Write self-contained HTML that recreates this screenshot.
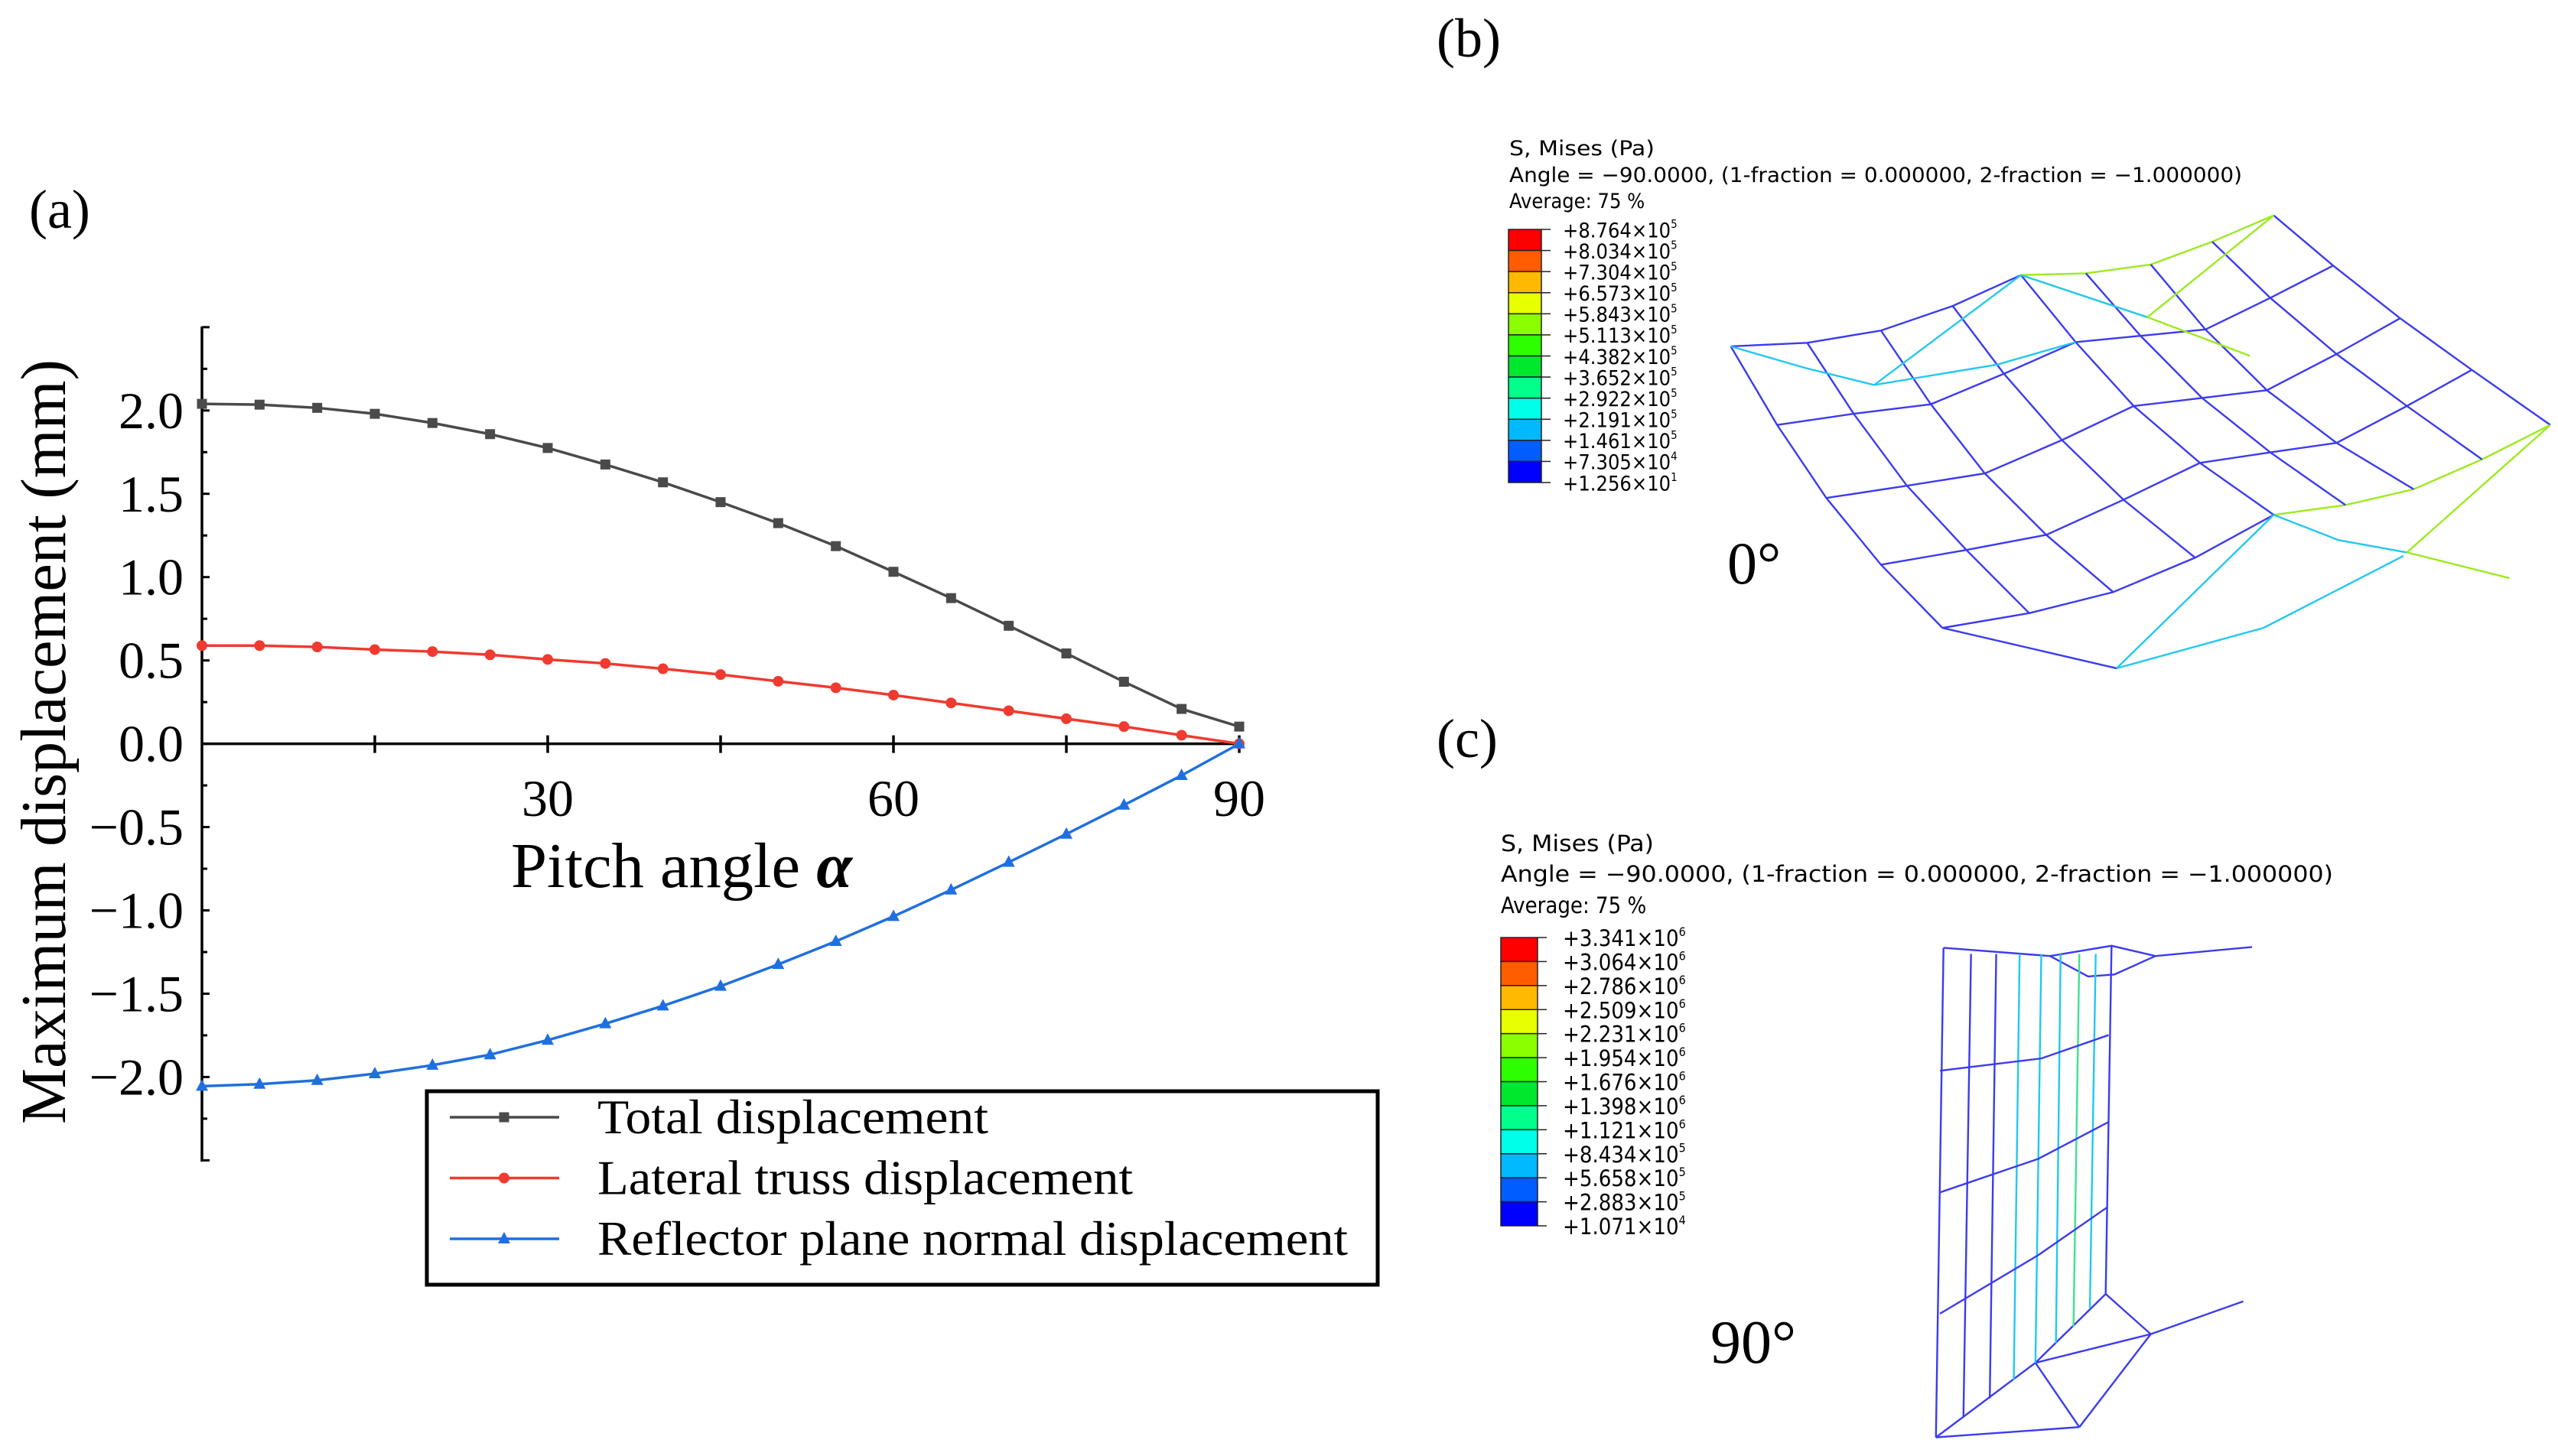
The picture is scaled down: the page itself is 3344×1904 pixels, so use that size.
<!DOCTYPE html>
<html><head><meta charset="utf-8"><style>
html,body{margin:0;padding:0;background:#fff;}
svg{display:block;}
.serif{font-family:"Liberation Serif",serif;}
.sans{font-family:"DejaVu Sans Condensed","Liberation Sans",sans-serif;}
</style></head><body>
<svg id="fig" xmlns="http://www.w3.org/2000/svg" width="3344" height="1904" viewBox="0 0 3344 1904">
<rect width="3344" height="1904" fill="#fff"/>
<text class="serif" x="38" y="298" font-size="72">(a)</text>
<text class="serif" x="1878" y="74" font-size="72">(b)</text>
<text class="serif" x="1878" y="990" font-size="72">(c)</text>
<g id="chart"></g>
<g id="panelb"></g>
<g id="panelc"></g>
</svg>
<script>
const NS="http://www.w3.org/2000/svg";
const angles=[0,5,10,15,20,25,30,35,40,45,50,55,60,65,70,75,80,85,90];
const totalDisp=[2.04,2.035,2.016,1.98,1.925,1.858,1.775,1.676,1.569,1.45,1.324,1.186,1.032,0.874,0.708,0.542,0.372,0.209,0.103];
const lateralDisp=[0.589,0.589,0.581,0.565,0.553,0.534,0.506,0.482,0.45,0.415,0.375,0.336,0.292,0.245,0.198,0.15,0.103,0.051,0.0];
const reflectorDisp=[-2.055,-2.043,-2.02,-1.98,-1.929,-1.866,-1.779,-1.68,-1.573,-1.455,-1.324,-1.186,-1.036,-0.877,-0.711,-0.542,-0.368,-0.19,0.0];
const yTickLabels=["−2.0","−1.5","−1.0","−0.5","0.0","0.5","1.0","1.5","2.0"];
const yTickValues=[-2,-1.5,-1,-0.5,0,0.5,1,1.5,2];
const xTickValues=[15,30,45,60,75,90];
const xTickLabels=["","30","","60","","90"];
const cbarBLabels=["+8.764","+8.034","+7.304","+6.573","+5.843","+5.113","+4.382","+3.652","+2.922","+2.191","+1.461","+7.305","+1.256"];
const cbarBExp=["5","5","5","5","5","5","5","5","5","5","5","4","1"];
const cbarCLabels=["+3.341","+3.064","+2.786","+2.509","+2.231","+1.954","+1.676","+1.398","+1.121","+8.434","+5.658","+2.883","+1.071"];
const cbarCExp=["6","6","6","6","6","6","6","6","6","5","5","5","4"];
const binColors=["#ff0000","#ff5d00","#ffb900","#e8ff00","#8bff00","#2eff00","#00e82e","#00ff8b","#00ffe8","#00b9ff","#005dff","#0000ff"];

function el(tag,attrs,parent){const e=document.createElementNS(NS,tag);for(const k in attrs)e.setAttribute(k,attrs[k]);if(parent)parent.appendChild(e);return e;}
const X=a=>264+a*(1356/90);
const Y=v=>972.6-v*217.9;

const chart=document.getElementById('chart');
let ax=el('line',{x1:264,y1:427,x2:264,y2:1519,stroke:'#000','stroke-width':3.5},chart);

let xa=el('line',{x1:264,y1:Y(0),x2:X(90)+2,y2:Y(0),stroke:'#000','stroke-width':3.5},chart);

for(let v=-2.5;v<=2.51;v+=0.25){
  const major=Math.abs(v*2-Math.round(v*2))<1e-6;
  const t=el('line',{x1:264,y1:Y(v),x2:264+(major?10:7),y2:Y(v),stroke:'#000','stroke-width':3},chart);
  
}
yTickValues.forEach((v,i)=>{
  const t=el('text',{x:240,y:Y(v)+23,'text-anchor':'end','font-size':68,class:'serif'},chart);
  t.textContent=yTickLabels[i];
  
});
xTickValues.forEach((v,i)=>{
  const t=el('line',{x1:X(v),y1:Y(0)-11,x2:X(v),y2:Y(0)+12,stroke:'#000','stroke-width':3.5},chart);
  
  if(xTickLabels[i]){
    const l=el('text',{x:X(v),y:1067,'text-anchor':'middle','font-size':68,class:'serif'},chart);
    l.textContent=xTickLabels[i];
    
  }
});
let xt=el('text',{x:668,y:1160,'font-size':84,class:'serif',textLength:446,lengthAdjust:'spacingAndGlyphs'},chart);
xt.innerHTML='Pitch angle <tspan font-style="italic" font-weight="bold">α</tspan>';

let yt=el('text',{x:0,y:0,'font-size':84,class:'serif','text-anchor':'middle',transform:'translate(85,970) rotate(-90)',textLength:1000,lengthAdjust:'spacingAndGlyphs'},chart);
yt.textContent='Maximum displacement (mm)';


function marker(g,type,x,y,color){
  let m;
  if(type==='sq') m=el('rect',{x:x-6.5,y:y-6.5,width:13,height:13,fill:color},g);
  else if(type==='ci') m=el('circle',{cx:x,cy:y,r:7,fill:color},g);
  else m=el('polygon',{points:`${x},${y-9} ${x-8},${y+6} ${x+8},${y+6}`,fill:color},g);
  return m;
}
function series(vals,color,type,name){
  const g=el('g',{},chart);
  
  const pts=angles.map((a,i)=>X(a)+','+Y(vals[i])).join(' ');
  const p=el('polyline',{points:pts,fill:'none',stroke:color,'stroke-width':3.5},g);
  
  angles.forEach((a,i)=>{
    const m=marker(g,type,X(a),Y(vals[i]),color);
    
  });
}
series(totalDisp,'#4a4a4a','sq','total-displacement-series');
series(lateralDisp,'#f03a30','ci','lateral-truss-series');
series(reflectorDisp,'#1f6fe0','tr','reflector-normal-series');

const lg=el('g',{},chart);

el('rect',{x:558,y:1427,width:1243,height:253,fill:'#fff',stroke:'#000','stroke-width':5},lg);
const legItems=[['Total displacement','#4a4a4a','sq',511],['Lateral truss displacement','#f03a30','ci',700],['Reflector plane normal displacement','#1f6fe0','tr',981]];
legItems.forEach((it,i)=>{
  const y=1461+i*79.5;
  const e=el('g',{},lg);
  
  el('line',{x1:588,y1:y,x2:731,y2:y,stroke:it[1],'stroke-width':3.5},e);
  marker(e,it[2],659,y,it[1]);
  const t=el('text',{x:781,y:y+21,'font-size':64,class:'serif',textLength:it[3],lengthAdjust:'spacingAndGlyphs'},e);
  t.textContent=it[0];
});

function contourHeader(g,x,ys,fs,w1,angleW){
  const lines=['S, Mises (Pa)','Angle = −90.0000, (1-fraction = 0.000000, 2-fraction = −1.000000)','Average: 75 %'];
  const names=['contour-variable-title','contour-angle-info','contour-average-info'];
  const ws=[w1,angleW,null];
  lines.forEach((s,i)=>{
    const a={x:x,y:ys[i],'font-size':fs,class:'sans'};
    if(ws[i]){a.textLength=ws[i];a.lengthAdjust='spacingAndGlyphs';}
    const t=el('text',a,g);t.textContent=s;
    
  });
}
function colorbar(g,x,y0,y1,w,labels,exps,lx,fs){
  const cb=el('g',{},g);
  
  const h=(y1-y0)/binColors.length;
  binColors.forEach((c,i)=>{
    el('rect',{x:x,y:y0+i*h,width:w,height:h,fill:c,stroke:'#222','stroke-width':1.5},cb);
  });
  labels.forEach((s,i)=>{
    const yy=y0+i*h;
    el('line',{x1:x+w,y1:yy,x2:x+w+12,y2:yy,stroke:'#222','stroke-width':1.5},cb);
    const t=el('text',{x:lx,y:yy+fs*0.38,'font-size':fs,class:'sans'},cb);
    t.innerHTML=s+'×10<tspan font-size="'+(fs*0.55)+'" dy="-'+(fs*0.45)+'">'+exps[i]+'</tspan>';
    
  });
}
const pb=document.getElementById('panelb');
contourHeader(pb,1973,[203,238,272],27,190,958);
colorbar(pb,1972,300,631,43,cbarBLabels,cbarBExp,2043,27);
let t0=el('text',{x:2258,y:763,'font-size':78,class:'serif'},pb);t0.textContent='0°';


const pc=document.getElementById('panelc');
contourHeader(pc,1962,[1113,1153,1194],29,200,1088);
colorbar(pc,1962,1226,1603,48,cbarCLabels,cbarCExp,2043,29);
let t90=el('text',{x:2236,y:1782,'font-size':80,class:'serif'},pc);t90.textContent='90°';


function L(g,pts,color){el('polyline',{points:pts,fill:'none',stroke:color,'stroke-width':2.4,'vector-effect':'non-scaling-stroke'},g);}
const BL='#3b3bf0',CY='#22c8f0',YG='#9cea20';

// mesh b (zoom-space coordinates)
const mb=el('g',{transform:'matrix(0.8929,0,0,0.4591,1950,160)'},pb);

const rowsB=[
 [[350,638],[462,628],[570,593],[675,523],[775,435],[870,430],[965,405],[1055,340],[1145,265]],
 [[418,862],[530,830],[643,803],[750,716],[855,626],[950,608],[1045,590],[1140,500],[1232,408]],
 [[490,1070],[608,1035],[722,1000],[835,905],[940,808],[1040,785],[1135,763],[1237,660],[1330,558]],
 [[570,1260],[695,1218],[812,1175],[925,1075],[1037,970],[1140,940],[1237,913],[1340,808],[1435,705]],
 [[660,1440],[787,1398],[910,1338],[1030,1240],[1145,1118],[1250,1090],[1350,1045],[1450,960],[1550,862]]
];
const j=p=>p.map(q=>q.join(',')).join(' ');
L(mb,j(rowsB[0].slice(0,5)),BL);L(mb,j(rowsB[0].slice(4)),YG);
for(let r=1;r<=3;r++)L(mb,j(rowsB[r]),BL);
L(mb,j(rowsB[4].slice(0,5)),BL);L(mb,j(rowsB[4].slice(4)),YG);
for(let c=0;c<9;c++){L(mb,j(rowsB.map(r=>r[c])),BL);}
L(mb,'775,435 560,748',CY);L(mb,'560,748 460,700 350,638',CY);
L(mb,'775,435 960,555 1110,665',YG);
L(mb,'560,748 740,690 855,626',CY);
L(mb,'775,435 960,555',CY);L(mb,'960,555 1145,265',YG);
L(mb,'660,1440 915,1555',BL);
L(mb,'915,1555 1145,1118',CY);L(mb,'915,1555 1130,1440 1335,1235',CY);
L(mb,'1145,1118 1240,1190 1340,1225',CY);
L(mb,'1340,1225 1550,862',YG);L(mb,'1340,1225 1490,1298',YG);

// mesh c
const mc=el('g',{transform:'matrix(0.7653,0,0,0.5357,1930,1060)'},pc);

L(mc,'798,335 785,1530',BL);L(mc,'785,1530 1030,1505',BL);
L(mc,'785,1530 955,1348 1075,1180',BL);L(mc,'1075,1180 1085,330',BL);
L(mc,'955,1348 1030,1505',BL);L(mc,'1030,1505 1152,1278 1075,1180',BL);
L(mc,'955,1348 1152,1278 1310,1198',BL);
L(mc,'798,335 980,355 1085,330 1160,355 1325,333',BL);
L(mc,'980,355 1045,405 1090,400 1160,355',BL);
const vx=[845,888,928,965,998,1030,1058],vb=[[832,1480],[877,1435],[918,1390],[955,1348],[990,1300],[1020,1260],[1048,1215]];
const vc=[BL,BL,CY,CY,CY,'#40e090',CY];
vx.forEach((x,i)=>L(mc,`${x},350 ${vb[i][0]},${vb[i][1]}`,vc[i]));
L(mc,'792,635 965,605 1080,548',BL);L(mc,'792,932 960,850 1080,760',BL);L(mc,'792,1228 960,1085 1078,968',BL);
</script>
</body></html>
